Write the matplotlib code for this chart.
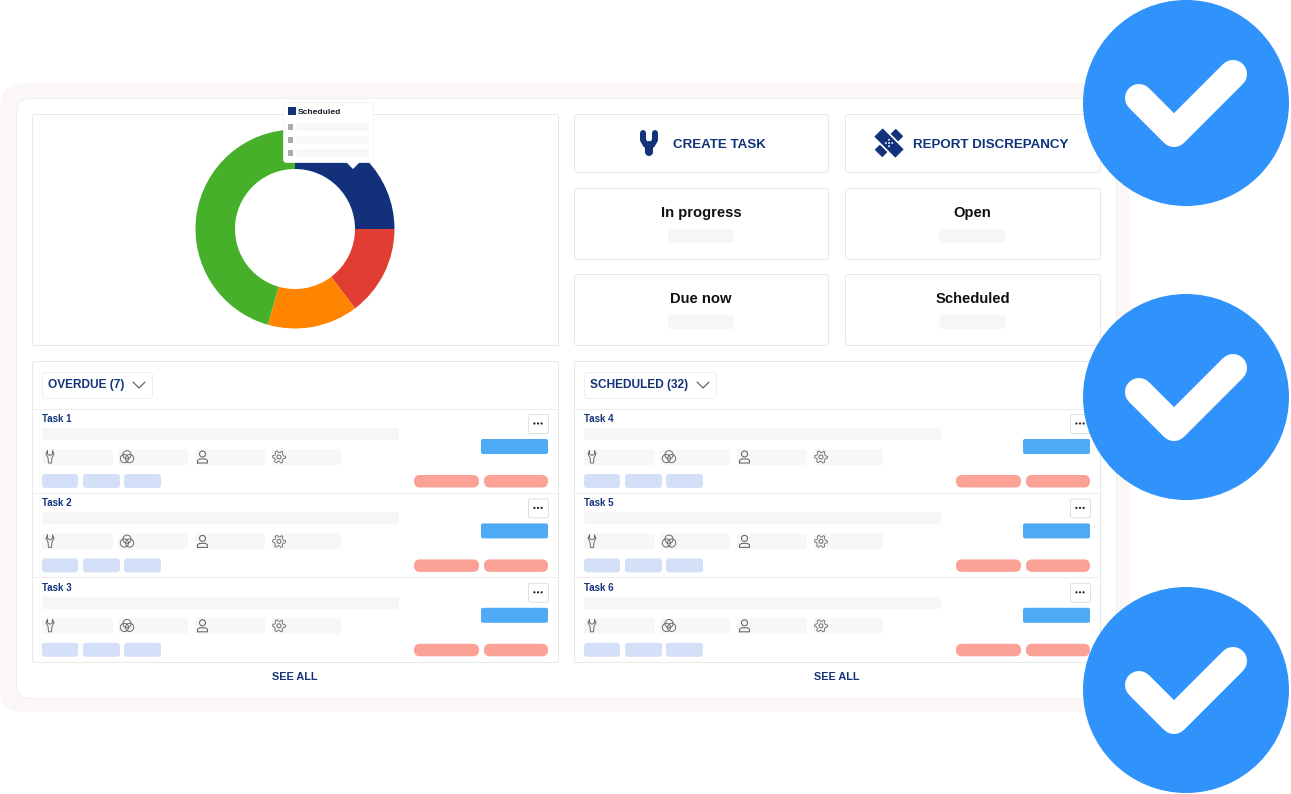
import numpy as np
import matplotlib
matplotlib.use("Agg")
import matplotlib.pyplot as plt
from matplotlib.patches import FancyBboxPatch, Circle, Polygon, Rectangle
from matplotlib.transforms import Affine2D

W, H = 1291, 794
NAVY = "#12337a"

# data
donut_values = [25, 14.7, 14.7, 45.6]
donut_colors = ["#12317a", "#e03e32", "#ff8500", "#46b02a"]
stat_labels = ["In progress", "Open", "Due now", "Scheduled"]
action_labels = ["CREATE TASK", "REPORT DISCREPANCY"]
list_titles = ["OVERDUE (7)", "SCHEDULED (32)"]
left_tasks = ["Task 1", "Task 2", "Task 3"]
right_tasks = ["Task 4", "Task 5", "Task 6"]
check_centers_y = [103, 397, 690]

plt.rcParams["font.family"] = ["Liberation Sans", "DejaVu Sans"]
fig = plt.figure(figsize=(W / 100, H / 100), dpi=100, facecolor="white")


def px_axes(zorder):
    a = fig.add_axes([0, 0, 1, 1], zorder=zorder)
    a.set_xlim(0, W)
    a.set_ylim(H, 0)
    a.axis("off")
    a.patch.set_alpha(0)
    return a


ax = px_axes(1)
top = px_axes(3)


def box(a, x0, y0, x1, y1, fc="white", ec="none", lw=0.72, r=3, z=2):
    # outlined boxes sit on the pixel centre so the edge stays one pixel wide
    if ec != "none":
        x0, y0, x1, y1 = x0 + 0.5, y0 + 0.5, x1 + 0.5, y1 + 0.5
    p = FancyBboxPatch((x0 + r, y0 + r), x1 - x0 - 2 * r, y1 - y0 - 2 * r,
                       boxstyle="round,pad=%f,rounding_size=%f" % (r, r),
                       fc=fc, ec=ec, lw=lw, zorder=z)
    a.add_patch(p)


def line(a, xs, ys, c="#6a6a6a", lw=0.7, z=4):
    a.plot(xs, ys, color=c, lw=lw, solid_capstyle="round", solid_joinstyle="round", zorder=z)


# outer frame
box(ax, 0, 83, 1130, 712, fc="#fbf7f7", r=24, z=1)
box(ax, 16, 98, 1116, 698, fc="white", ec="#f1eeee", r=14, z=1)

# panels
box(ax, 32, 114, 558, 345, ec="#e8e8e8", r=2)
for x0, x1 in zip((574, 845), (828, 1100)):
    box(ax, x0, 114, x1, 172, ec="#e8e8e8", r=3)
ax.text(719.5, 144.5, action_labels[0], color=NAVY, fontsize=9.6, fontweight="bold", ha="center", va="center", zorder=5)
ax.text(990.5, 144.5, action_labels[1], color=NAVY, fontsize=9.6, fontweight="bold", ha="center", va="center", zorder=5)

# wrench icon
line(ax, [643, 643, 646, 652, 655, 655], [133, 140, 145, 145, 140, 133], c=NAVY, lw=4.3, z=5)
line(ax, [649, 649], [145, 152], c=NAVY, lw=5.8, z=5)
# bandage icon
rot = Affine2D().rotate_deg_around(889, 143, 45) + ax.transData
ax.add_patch(Rectangle((874.5, 137.5), 29, 11, fc=NAVY, ec=NAVY, lw=0.5, transform=rot, zorder=5))
rot2 = Affine2D().rotate_deg_around(889, 143, -45) + ax.transData
ax.add_patch(Rectangle((874.5, 138), 6.5, 10, fc=NAVY, ec=NAVY, lw=0.5, transform=rot2, zorder=5))
ax.add_patch(Rectangle((897, 138), 6.5, 10, fc=NAVY, ec=NAVY, lw=0.5, transform=rot2, zorder=5))
for dx, dy in [(0, -3.2), (-3.2, 0), (3.2, 0), (0, 3.2), (0, 0)]:
    ax.add_patch(Circle((889 + dx, 143 + dy), 1.0, fc="#dfe6f3", ec="none", zorder=6))

# stat cards
stat_boxes = [(574, 188, 828, 259), (845, 188, 1100, 259), (574, 274, 828, 345), (845, 274, 1100, 345)]
for label, (x0, y0, x1, y1) in zip(stat_labels, stat_boxes):
    box(ax, x0, y0, x1, y1, ec="#e8e8e8", r=3)
    ax.text((x0 + x1) / 2, y0 + 25, label, color="#111111", fontsize=10.6, fontweight="bold",
            ha="center", va="center", zorder=5)
    cx = (x0 + x1) / 2
    box(ax, cx - 33, y0 + 41, cx + 33, y0 + 55, fc="#f6f6f6", r=3)


def wrench(a, x, y):
    pts_x = [-2.5, -4, -2, -1.5, 1.5, 2, 4, 2.5, 2.5, 0, -2.5, -2.5]
    pts_y = [-6.5, -3, 0.5, 6, 6, 0.5, -3, -6.5, -3, -1.5, -3, -6.5]
    line(a, [x + v for v in pts_x], [y + v for v in pts_y])


def rings(a, x, y):
    for dx, dy in [(-2.6, 1.6), (2.6, 1.6), (0, -2.2)]:
        a.add_patch(Circle((x + dx, y + dy), 4.1, fc="none", ec="#6a6a6a", lw=0.7, zorder=4))


def person(a, x, y):
    a.add_patch(Circle((x, y - 3), 3, fc="none", ec="#6a6a6a", lw=0.8, zorder=4))
    line(a, [x - 5, x - 5, x - 3, x + 3, x + 5, x + 5, x - 5], [y + 6, y + 3.5, y + 2, y + 2, y + 3.5, y + 6, y + 6], lw=0.8)


def gear(a, x, y):
    a.add_patch(Circle((x, y), 2, fc="none", ec="#6a6a6a", lw=0.7, zorder=4))
    t = np.linspace(0, 2 * np.pi, 49)
    r = 5.4 + 0.9 * np.sign(np.cos(6 * t))
    line(a, x + r * np.cos(t), y + r * np.sin(t), lw=0.6)


def task_list(dx, title, title_right, tasks, see_all_x):
    box(ax, 32 + dx, 361, 558 + dx, 662, ec="#e8e8e8", r=2)
    box(ax, 42 + dx, 372, title_right + dx, 398, ec="#efefef", r=3)
    ax.text(48 + dx, 385, title, color=NAVY, fontsize=8.6, fontweight="bold", ha="left", va="center", zorder=5)
    cx = title_right - 13 + dx
    line(ax, [cx - 6, cx, cx + 6], [382, 388, 382], c="#555555", lw=0.8)
    for i, name in enumerate(tasks):
        off = i * 84.4
        line(ax, [32 + dx, 558 + dx], [408.5 + off, 408.5 + off], c="#ececec", lw=0.72, z=3)
        ax.text(42 + dx, 419 + off, name, color=NAVY, fontsize=7, fontweight="bold", ha="left", va="center", zorder=5)
        box(ax, 42 + dx, 428 + off, 399 + dx, 440 + off, fc="#f6f6f6", r=2)
        # chips with icons
        for x0, x1 in [(42, 113), (118, 188), (195, 265), (272, 341)]:
            box(ax, x0 + dx, 449 + off, x1 + dx, 465 + off, fc="#f7f7f8", r=3)
        for x0, x1 in [(42, 78), (83, 120), (124, 161)]:
            box(ax, x0 + dx, 474 + off, x1 + dx, 488 + off, fc="#d3e0f8", r=3)
        wrench(ax, 50 + dx, 457 + off)
        rings(ax, 127 + dx, 457 + off)
        person(ax, 202.5 + dx, 457 + off)
        gear(ax, 279 + dx, 457 + off)
        # right hand side
        box(ax, 528 + dx, 414 + off, 548 + dx, 433 + off, ec="#e0e0e0", r=2)
        for d in (-3.6, 0, 3.6):
            ax.add_patch(Circle((538 + dx + d, 423.5 + off), 1.1, fc="#222222", ec="none", zorder=5))
        box(ax, 481 + dx, 439 + off, 548 + dx, 454 + off, fc="#4eaaf5", r=2)
        box(ax, 414 + dx, 475 + off, 479 + dx, 487.5 + off, fc="#fba196", r=6)
        box(ax, 484 + dx, 475 + off, 548 + dx, 487.5 + off, fc="#fba196", r=6)
    ax.text(see_all_x, 677.5, "SEE ALL", color=NAVY, fontsize=7.8, fontweight="bold", ha="center", va="center", zorder=5)


task_list(0, list_titles[0], 152, left_tasks, 295)
task_list(542, list_titles[1], 174, right_tasks, 837)

# donut, in its own axes between background and overlay
cx, cy, ro, ri = 295, 229, 99.5, 60
pie_ax = fig.add_axes([(cx - ro) / W, 1 - (cy + ro) / H, 2 * ro / W, 2 * ro / H], zorder=2)
pie_ax.pie(donut_values, colors=donut_colors, startangle=90, counterclock=False, radius=1,
           wedgeprops=dict(width=1 - ri / ro, linewidth=0))
pie_ax.set_xlim(-1, 1)
pie_ax.set_ylim(-1, 1)
pie_ax.axis("off")

# tooltip
box(top, 283, 102, 373, 162, fc="white", ec="#f3f3f3", lw=0.6, r=3, z=2)
top.add_patch(Polygon([(345, 161), (361, 161), (353, 169)], closed=True, fc="white", ec="none", zorder=3))
top.add_patch(Rectangle((288, 107), 8, 8, fc=NAVY, ec="none", zorder=4))
top.text(298, 112, "Scheduled", color="#1a1a2a", fontsize=6.1, fontweight="bold", ha="left", va="center", zorder=4)
for y in (127, 140, 153):
    top.add_patch(Rectangle((288, y - 3), 5, 6, fc="#ababab", ec="none", zorder=4))
    box(top, 296, y - 4, 369, y + 4, fc="#f8f8f8", r=2, z=3)

# check badges
for y in check_centers_y:
    top.add_patch(Circle((1186, y), 103, fc="#2f93fb", ec="none", zorder=6))
    top.plot([1139, 1174, 1233], [y - 5, y + 30, y - 29], color="white", lw=20.2,
             solid_capstyle="round", solid_joinstyle="round", zorder=7)

fig.savefig("out.png", dpi=100, facecolor="white")
